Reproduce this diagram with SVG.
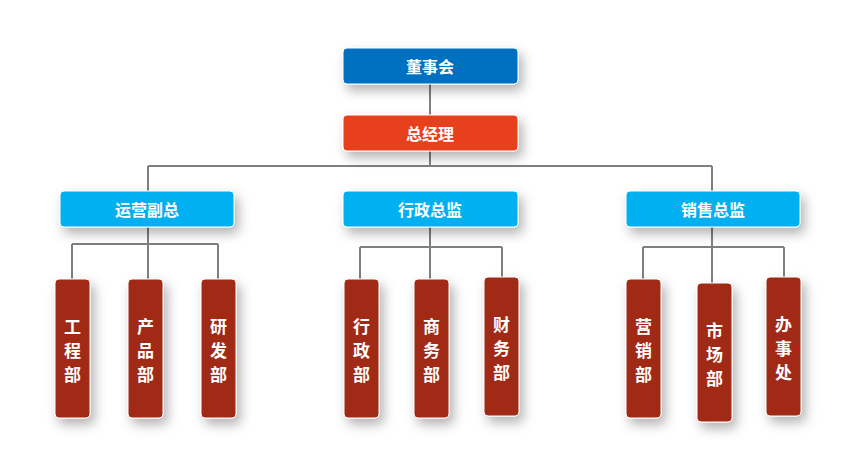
<svg xmlns="http://www.w3.org/2000/svg" width="853" height="454" viewBox="0 0 853 454">
<defs>
<filter id="sh" x="-50%" y="-50%" width="200%" height="200%"><feDropShadow dx="4" dy="6" stdDeviation="6" flood-color="#000" flood-opacity="0.3"/></filter>
<style>
.b{stroke:#fff;stroke-width:1;filter:url(#sh)}
.t{fill:#fff;font-family:"Noto Sans CJK SC",sans-serif;font-weight:bold;font-size:16px;text-anchor:middle;dominant-baseline:central}
.v{fill:#fff;font-family:"Noto Sans CJK SC",sans-serif;font-weight:bold;font-size:17px;text-anchor:middle}
.d{fill:#A02914}
.c{fill:#00B0F0}
#conn path{fill:none;stroke:#7f7f7f;stroke-width:2}
</style>
</defs>
<rect width="853" height="454" fill="#fff"/>
<g id="conn">
<path d="M430 84V115M430 151V166M148 166H712M148 166V191M712 166V191"/>
<path d="M148 227V244M72 244H218M72 244V279M148 244V279M218 244V279"/>
<path d="M430 227V247M360 247H502M360 247V279M430 247V279M502 247V277"/>
<path d="M712 227V247M643 247H784M643 247V279M712 247V283M784 247V277"/>
</g>
<g id="n1"><rect class="b" x="343" y="48" width="175" height="36" rx="4" fill="#0070C0"/><text class="t" x="430" y="66">董事会</text></g>
<g id="n2"><rect class="b" x="343" y="115" width="175" height="36" rx="4" fill="#E8401C"/><text class="t" x="430" y="133">总经理</text></g>
<g id="n3"><rect class="b c" x="60" y="191" width="174" height="36" rx="4"/><text class="t" x="147" y="209">运营副总</text></g>
<g id="n4"><rect class="b c" x="343" y="191" width="175" height="36" rx="4"/><text class="t" x="430" y="209">行政总监</text></g>
<g id="n5"><rect class="b c" x="626" y="191" width="174" height="36" rx="4"/><text class="t" x="713" y="209">销售总监</text></g>
<g id="n6"><rect class="b d" x="55" y="279" width="35" height="139" rx="4"/><text class="v" x="72.5" y="333">工</text><text class="v" x="72.5" y="357">程</text><text class="v" x="72.5" y="381">部</text></g>
<g id="n7"><rect class="b d" x="128" y="279" width="35" height="139" rx="4"/><text class="v" x="145.5" y="333">产</text><text class="v" x="145.5" y="357">品</text><text class="v" x="145.5" y="381">部</text></g>
<g id="n8"><rect class="b d" x="201" y="279" width="35" height="139" rx="4"/><text class="v" x="218.5" y="333">研</text><text class="v" x="218.5" y="357">发</text><text class="v" x="218.5" y="381">部</text></g>
<g id="n9"><rect class="b d" x="344" y="279" width="35" height="139" rx="4"/><text class="v" x="361.5" y="333">行</text><text class="v" x="361.5" y="357">政</text><text class="v" x="361.5" y="381">部</text></g>
<g id="n10"><rect class="b d" x="414" y="279" width="35" height="139" rx="4"/><text class="v" x="431.5" y="333">商</text><text class="v" x="431.5" y="357">务</text><text class="v" x="431.5" y="381">部</text></g>
<g id="n11"><rect class="b d" x="484" y="277" width="35" height="139" rx="4"/><text class="v" x="501.5" y="331">财</text><text class="v" x="501.5" y="355">务</text><text class="v" x="501.5" y="379">部</text></g>
<g id="n12"><rect class="b d" x="626" y="279" width="35" height="139" rx="4"/><text class="v" x="643.5" y="333">营</text><text class="v" x="643.5" y="357">销</text><text class="v" x="643.5" y="381">部</text></g>
<g id="n13"><rect class="b d" x="697" y="283" width="35" height="139" rx="4"/><text class="v" x="714.5" y="337">市</text><text class="v" x="714.5" y="361">场</text><text class="v" x="714.5" y="385">部</text></g>
<g id="n14"><rect class="b d" x="766" y="277" width="35" height="139" rx="4"/><text class="v" x="783.5" y="331">办</text><text class="v" x="783.5" y="355">事</text><text class="v" x="783.5" y="379">处</text></g>
</svg>
